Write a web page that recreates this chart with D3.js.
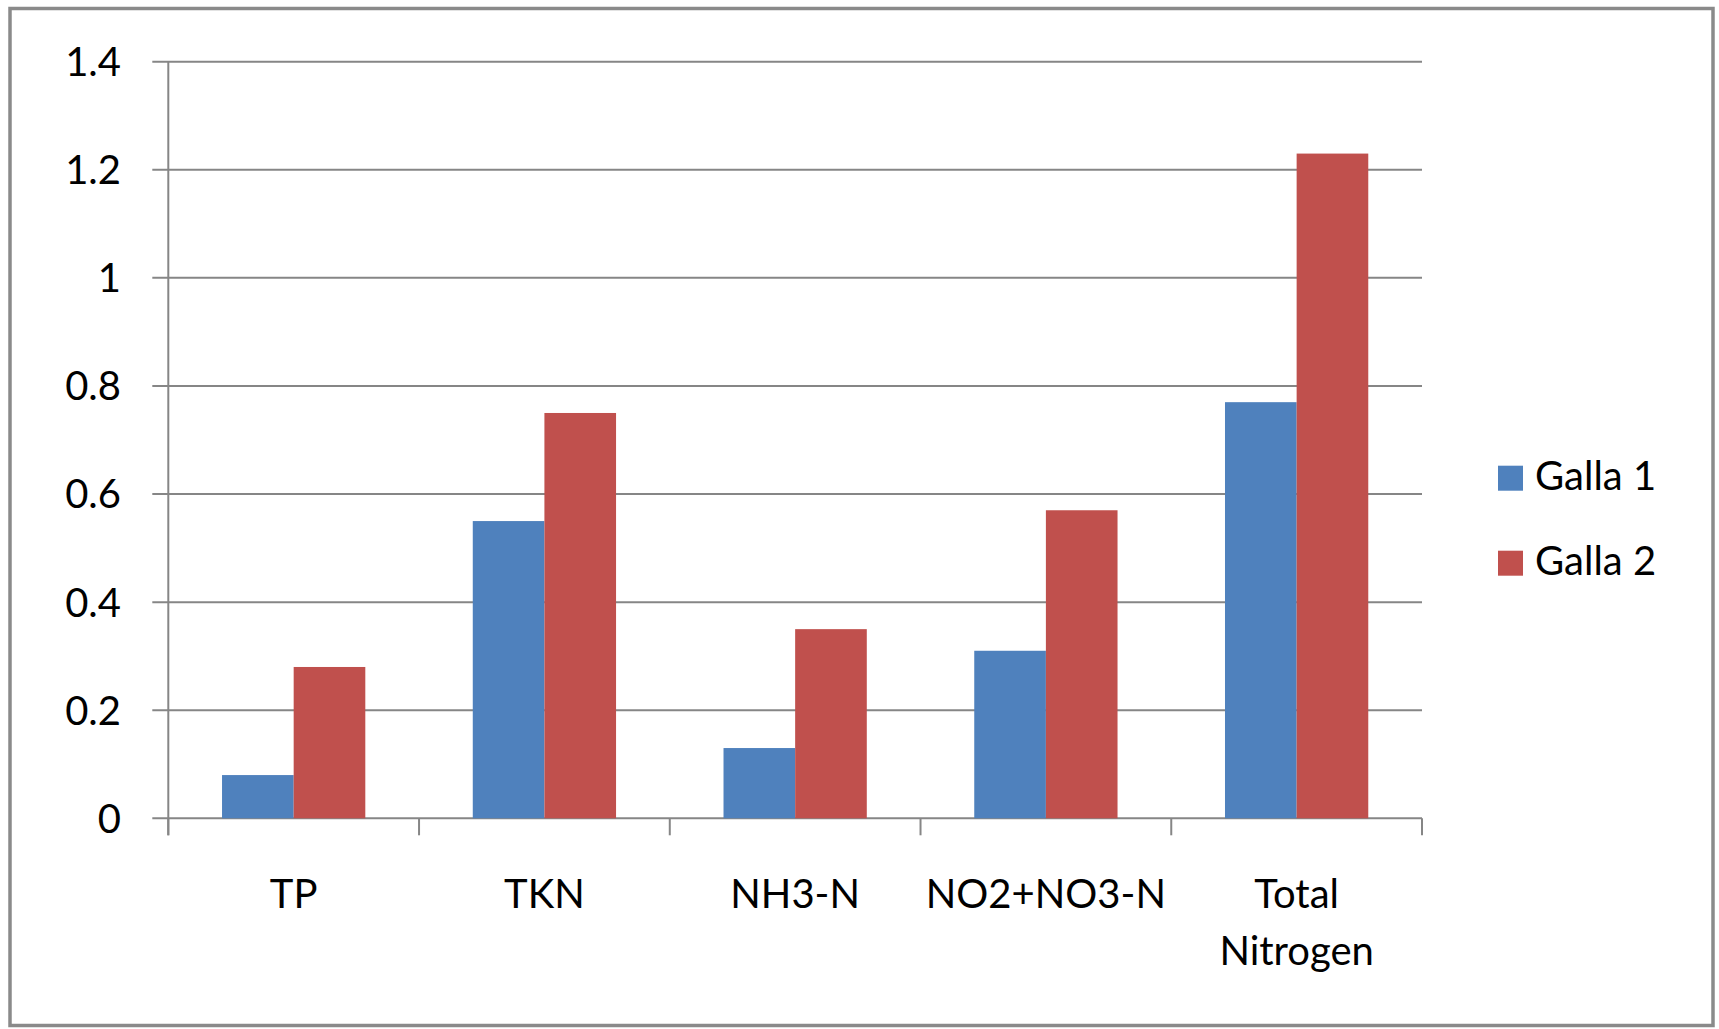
<!DOCTYPE html>
<html>
<head>
<meta charset="utf-8">
<script src="https://cdn.jsdelivr.net/npm/d3@7"></script>
<style>
  body { margin: 0; background: #fff; }
  text { font-family: Lato, "Open Sans", sans-serif; fill: #000; }
</style>
</head>
<body>
<div id="wrapper"></div>
<script>
// data
const categories = ["TP", "TKN", "NH3-N", "NO2+NO3-N", "Total Nitrogen"]
const seriesNames = ["Galla 1", "Galla 2"]
const galla1 = [0.08, 0.55, 0.13, 0.31, 0.77]
const galla2 = [0.28, 0.75, 0.35, 0.57, 1.23]
const yTicks = [0, 0.2, 0.4, 0.6, 0.8, 1, 1.2, 1.4]
const colors = ["#4F81BD", "#C0504D"]

function drawChart() {
    const dimensions = {
        width: 1719,
        height: 1029,
        plotLeft: 168.3,
        plotRight: 1422,
        plotTop: 61.7,
        plotBottom: 818.3,
    }

    const rows = categories.map((c, i) => ({
        category: c,
        values: [galla1[i], galla2[i]],
    }))

    const svg = d3.select("#wrapper")
        .append("svg")
            .attr("width", dimensions.width)
            .attr("height", dimensions.height)

    // outer frame
    svg.append("rect")
        .attr("x", 10)
        .attr("y", 8.5)
        .attr("width", 1703)
        .attr("height", 1017)
        .attr("fill", "none")
        .attr("stroke", "#8a8a8a")
        .attr("stroke-width", 3.5)

    const xScale = d3.scaleBand()
        .domain(categories)
        .range([dimensions.plotLeft, dimensions.plotRight])
        .padding(0)

    // gap width 150% of a bar
    const xInner = d3.scaleBand()
        .domain(seriesNames)
        .range([0, xScale.bandwidth()])
        .paddingInner(0)
        .paddingOuter(0.75)

    const yScale = d3.scaleLinear()
        .domain([0, 1.4])
        .range([dimensions.plotBottom, dimensions.plotTop])

    const gridColor = "#868686"

    // gridlines + y tick marks
    const grid = svg.append("g")
    grid.selectAll("line")
        .data(yTicks)
        .join("line")
            .attr("x1", dimensions.plotLeft - 16)
            .attr("x2", dimensions.plotRight)
            .attr("y1", d => yScale(d))
            .attr("y2", d => yScale(d))
            .attr("stroke", gridColor)
            .attr("stroke-width", 2)

    // y axis line
    svg.append("line")
        .attr("x1", dimensions.plotLeft)
        .attr("x2", dimensions.plotLeft)
        .attr("y1", dimensions.plotTop)
        .attr("y2", dimensions.plotBottom + 17)
        .attr("stroke", gridColor)
        .attr("stroke-width", 2)

    // y labels
    svg.append("g").selectAll("text")
        .data(yTicks)
        .join("text")
            .attr("x", 121)
            .attr("y", d => yScale(d))
            .attr("dy", "0.36em")
            .attr("text-anchor", "end")
            .style("font-size", "40px")
            .text(d => d3.format("")(d))

    // bars
    const groups = svg.append("g").selectAll("g")
        .data(rows)
        .join("g")
            .attr("transform", d => `translate(${xScale(d.category)},0)`)

    groups.selectAll("rect")
        .data(d => d.values.map((v, i) => ({ name: seriesNames[i], value: v, i })))
        .join("rect")
            .attr("x", d => xInner(d.name))
            .attr("width", xInner.bandwidth())
            .attr("y", d => yScale(d.value))
            .attr("height", d => yScale(0) - yScale(d.value))
            .attr("fill", d => colors[d.i])

    // x tick marks at category boundaries
    const boundaries = categories.map(c => xScale(c)).concat([dimensions.plotRight])
    svg.append("g").selectAll("line")
        .data(boundaries)
        .join("line")
            .attr("x1", d => d)
            .attr("x2", d => d)
            .attr("y1", dimensions.plotBottom)
            .attr("y2", dimensions.plotBottom + 17)
            .attr("stroke", gridColor)
            .attr("stroke-width", 2)

    // x labels (wrap long ones)
    const xLabels = svg.append("g").selectAll("text")
        .data(categories)
        .join("text")
            .attr("x", d => xScale(d) + xScale.bandwidth() / 2)
            .attr("y", dimensions.plotBottom + 90)
            .attr("text-anchor", "middle")
            .style("font-size", "40px")

    xLabels.each(function(d) {
        const el = d3.select(this)
        el.text(d)
        if (this.getComputedTextLength() > xScale.bandwidth() * 0.95 && d.includes(" ")) {
            el.text(null)
            const x = xScale(d) + xScale.bandwidth() / 2
            d.split(" ").forEach((word, i) => {
                el.append("tspan")
                    .attr("x", x)
                    .attr("dy", i === 0 ? 0 : 57)
                    .text(word)
            })
        }
    })

    // legend
    const legend = svg.append("g").selectAll("g")
        .data(seriesNames)
        .join("g")
            .attr("transform", (d, i) => `translate(1498,${465.7 + i * 85})`)

    legend.append("rect")
        .attr("width", 25)
        .attr("height", 25)
        .attr("fill", (d, i) => colors[i])

    legend.append("text")
        .attr("x", 37)
        .attr("y", 24.5)
        .style("font-size", "40px")
        .text(d => d)
}
drawChart()
</script>
</body>
</html>
